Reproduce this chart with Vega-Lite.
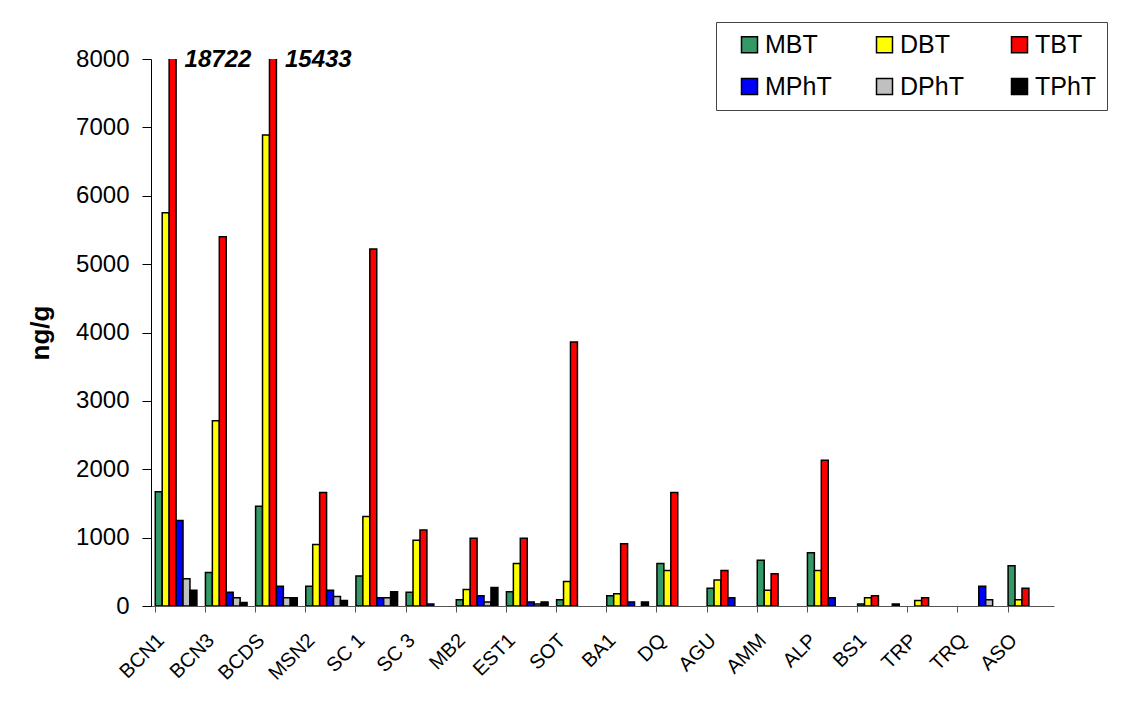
{
  "$schema": "https://vega.github.io/schema/vega-lite/v6.json",
  "width": 903,
  "height": 547,
  "autosize": {"type": "none"},
  "padding": {"left": 151, "top": 59, "right": 71, "bottom": 102},
  "background": "white",
  "config": {"view": {"stroke": null}, "font": "Liberation Sans"},
  "data": {
    "values": [
      {"site": "BCN1", "compound": "MBT", "value": 1670},
      {"site": "BCN1", "compound": "DBT", "value": 5750},
      {"site": "BCN1", "compound": "TBT", "value": 18722},
      {"site": "BCN1", "compound": "MPhT", "value": 1250},
      {"site": "BCN1", "compound": "DPhT", "value": 400},
      {"site": "BCN1", "compound": "TPhT", "value": 230},
      {"site": "BCN3", "compound": "MBT", "value": 490},
      {"site": "BCN3", "compound": "DBT", "value": 2710},
      {"site": "BCN3", "compound": "TBT", "value": 5400},
      {"site": "BCN3", "compound": "MPhT", "value": 200},
      {"site": "BCN3", "compound": "DPhT", "value": 120},
      {"site": "BCN3", "compound": "TPhT", "value": 50},
      {"site": "BCDS", "compound": "MBT", "value": 1460},
      {"site": "BCDS", "compound": "DBT", "value": 6890},
      {"site": "BCDS", "compound": "TBT", "value": 15433},
      {"site": "BCDS", "compound": "MPhT", "value": 290},
      {"site": "BCDS", "compound": "DPhT", "value": 120},
      {"site": "BCDS", "compound": "TPhT", "value": 120},
      {"site": "MSN2", "compound": "MBT", "value": 290},
      {"site": "MSN2", "compound": "DBT", "value": 900},
      {"site": "MSN2", "compound": "TBT", "value": 1660},
      {"site": "MSN2", "compound": "MPhT", "value": 230},
      {"site": "MSN2", "compound": "DPhT", "value": 140},
      {"site": "MSN2", "compound": "TPhT", "value": 80},
      {"site": "SC 1", "compound": "MBT", "value": 440},
      {"site": "SC 1", "compound": "DBT", "value": 1310},
      {"site": "SC 1", "compound": "TBT", "value": 5220},
      {"site": "SC 1", "compound": "MPhT", "value": 120},
      {"site": "SC 1", "compound": "DPhT", "value": 120},
      {"site": "SC 1", "compound": "TPhT", "value": 210},
      {"site": "SC 3", "compound": "MBT", "value": 200},
      {"site": "SC 3", "compound": "DBT", "value": 960},
      {"site": "SC 3", "compound": "TBT", "value": 1110},
      {"site": "SC 3", "compound": "MPhT", "value": 30},
      {"site": "MB2", "compound": "MBT", "value": 90},
      {"site": "MB2", "compound": "DBT", "value": 240},
      {"site": "MB2", "compound": "TBT", "value": 990},
      {"site": "MB2", "compound": "MPhT", "value": 150},
      {"site": "MB2", "compound": "DPhT", "value": 60},
      {"site": "MB2", "compound": "TPhT", "value": 270},
      {"site": "EST1", "compound": "MBT", "value": 210},
      {"site": "EST1", "compound": "DBT", "value": 620},
      {"site": "EST1", "compound": "TBT", "value": 990},
      {"site": "EST1", "compound": "MPhT", "value": 60},
      {"site": "EST1", "compound": "DPhT", "value": 30},
      {"site": "EST1", "compound": "TPhT", "value": 60},
      {"site": "SOT", "compound": "MBT", "value": 90},
      {"site": "SOT", "compound": "DBT", "value": 360},
      {"site": "SOT", "compound": "TBT", "value": 3860},
      {"site": "BA1", "compound": "MBT", "value": 150},
      {"site": "BA1", "compound": "DBT", "value": 180},
      {"site": "BA1", "compound": "TBT", "value": 910},
      {"site": "BA1", "compound": "MPhT", "value": 60},
      {"site": "BA1", "compound": "TPhT", "value": 60},
      {"site": "DQ", "compound": "MBT", "value": 620},
      {"site": "DQ", "compound": "DBT", "value": 520},
      {"site": "DQ", "compound": "TBT", "value": 1660},
      {"site": "AGU", "compound": "MBT", "value": 260},
      {"site": "AGU", "compound": "DBT", "value": 380},
      {"site": "AGU", "compound": "TBT", "value": 520},
      {"site": "AGU", "compound": "MPhT", "value": 120},
      {"site": "AMM", "compound": "MBT", "value": 670},
      {"site": "AMM", "compound": "DBT", "value": 230},
      {"site": "AMM", "compound": "TBT", "value": 470},
      {"site": "ALP", "compound": "MBT", "value": 780},
      {"site": "ALP", "compound": "DBT", "value": 520},
      {"site": "ALP", "compound": "TBT", "value": 2130},
      {"site": "ALP", "compound": "MPhT", "value": 120},
      {"site": "BS1", "compound": "MBT", "value": 30},
      {"site": "BS1", "compound": "DBT", "value": 120},
      {"site": "BS1", "compound": "TBT", "value": 150},
      {"site": "BS1", "compound": "TPhT", "value": 30},
      {"site": "TRP", "compound": "DBT", "value": 80},
      {"site": "TRP", "compound": "TBT", "value": 120},
      {"site": "TRQ", "compound": "MPhT", "value": 290},
      {"site": "TRQ", "compound": "DPhT", "value": 90},
      {"site": "ASO", "compound": "MBT", "value": 590},
      {"site": "ASO", "compound": "DBT", "value": 90},
      {"site": "ASO", "compound": "TBT", "value": 260}
    ]
  },
  "layer": [
    {
      "mark": {"type": "bar", "stroke": "black", "strokeWidth": 1.5, "clip": true},
      "encoding": {
        "x": {
          "field": "site",
          "type": "nominal",
          "sort": ["BCN1", "BCN3", "BCDS", "MSN2", "SC 1", "SC 3", "MB2", "EST1", "SOT", "BA1", "DQ", "AGU", "AMM", "ALP", "BS1", "TRP", "TRQ", "ASO"],
          "scale": {"paddingInner": 0.17, "paddingOuter": 0.085},
          "axis": {
            "title": null,
            "labelAngle": -45,
            "labelAlign": "right",
            "labelBaseline": "middle",
            "labelFontSize": 20,
            "labelColor": "black",
            "labelPadding": 25,
            "labelOffset": -15,
            "bandPosition": 0,
            "tickSize": 6,
            "tickColor": "#555555",
            "domainColor": "#555555",
            "labelOverlap": false
          }
        },
        "xOffset": {
          "field": "compound",
          "type": "nominal",
          "scale": {"domain": ["MBT", "DBT", "TBT", "MPhT", "DPhT", "TPhT"], "paddingInner": 0, "paddingOuter": 0}
        },
        "y": {
          "field": "value",
          "type": "quantitative",
          "scale": {"domain": [0, 8000], "nice": false},
          "axis": {
            "title": "ng/g",
            "titleFontSize": 26,
            "titleFontWeight": "bold",
            "titleColor": "black",
            "titlePadding": 22,
            "labelFontSize": 24,
            "labelColor": "black",
            "labelPadding": 13,
            "tickSize": 9,
            "tickColor": "black",
            "domainColor": "black",
            "grid": false,
            "values": [0, 1000, 2000, 3000, 4000, 5000, 6000, 7000, 8000],
            "format": "d"
          }
        },
        "fill": {
          "field": "compound",
          "type": "nominal",
          "scale": {
            "domain": ["MBT", "DBT", "TBT", "MPhT", "DPhT", "TPhT"],
            "range": ["#339966", "#FFFF00", "#FF0000", "#0000FF", "#C0C0C0", "#000000"]
          },
          "legend": {
            "title": null,
            "orient": "none",
            "legendX": 565,
            "legendY": -37,
            "direction": "horizontal",
            "columns": 3,
            "gridAlign": "all",
            "columnPadding": 29,
            "rowPadding": 16,
            "symbolType": "square",
            "symbolSize": 256,
            "symbolOffset": 11,
            "symbolStrokeColor": "black",
            "symbolStrokeWidth": 1.5,
            "labelFontSize": 25,
            "labelColor": "black",
            "labelOffset": 3,
            "strokeColor": "#444444",
            "padding": 10,
            "fillColor": "white"
          }
        }
      }
    },
    {
      "transform": [{"filter": "datum.value > 8000"}],
      "mark": {"type": "text", "fontSize": 24, "fontWeight": "bold", "fontStyle": "italic", "align": "left", "baseline": "middle", "dx": 12, "color": "black"},
      "encoding": {
        "x": {"field": "site", "type": "nominal", "sort": ["BCN1", "BCN3", "BCDS", "MSN2", "SC 1", "SC 3", "MB2", "EST1", "SOT", "BA1", "DQ", "AGU", "AMM", "ALP", "BS1", "TRP", "TRQ", "ASO"]},
        "xOffset": {"field": "compound", "type": "nominal"},
        "y": {"datum": 7980},
        "text": {"field": "value", "type": "quantitative", "format": "d"}
      }
    }
  ]
}
